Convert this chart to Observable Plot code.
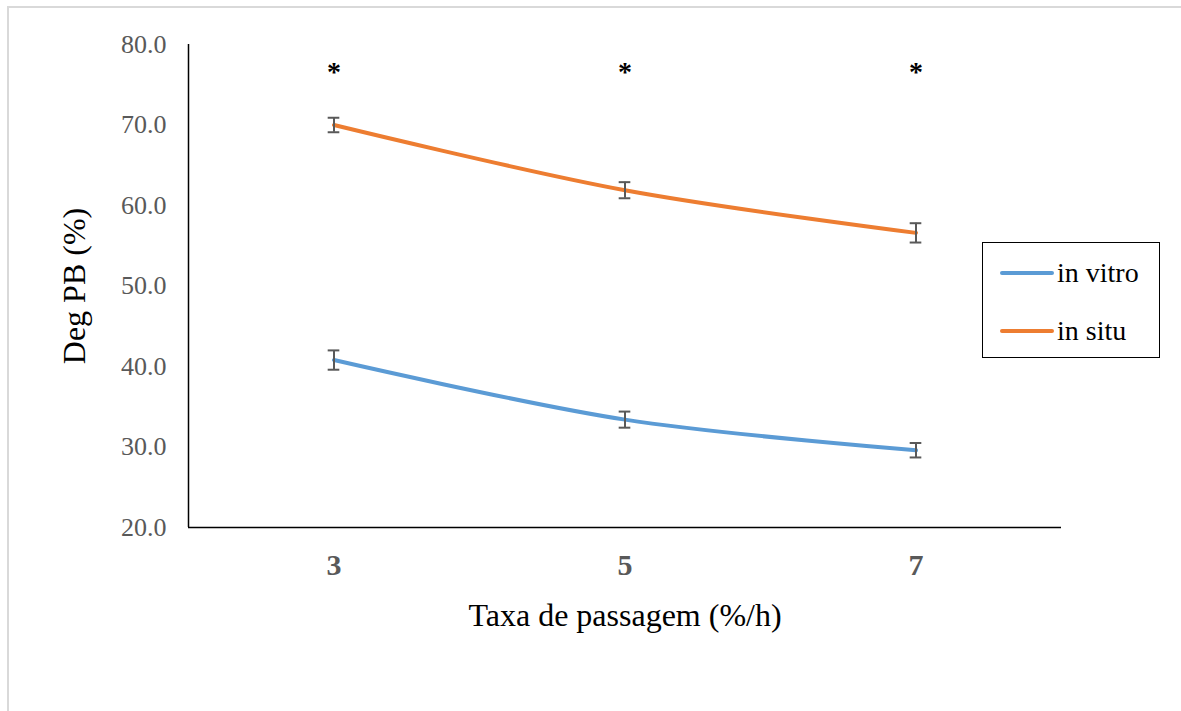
<!DOCTYPE html>
<html>
<head>
<meta charset="utf-8">
<script src="https://cdn.jsdelivr.net/npm/d3@7"></script>
<script src="https://cdn.jsdelivr.net/npm/@observablehq/plot@0.6"></script>
<style>
  html, body { margin: 0; padding: 0; background: #fff; overflow: hidden; }
  #wrap { position: relative; width: 1181px; height: 711px; font-family: "Liberation Serif", "Times New Roman", serif; }
  #border { position: absolute; left: 7px; top: 6px; width: 1200px; height: 800px; border: 2px solid #d9d9d9; box-sizing: border-box; }
  #legend { position: absolute; left: 982px; top: 242px; width: 178px; height: 116px; border: 1.5px solid #000; box-sizing: border-box; background: #fff; }
  .item { position: absolute; left: 17px; display: flex; align-items: center; font-size: 28px; color: #000; line-height: 1; }
  .sw { width: 54px; height: 4px; border-radius: 2px; margin-right: 3px; }
  #chart { position: absolute; left: 0; top: 0; }
  #chart svg text { font-family: "Liberation Serif", "Times New Roman", serif; }
</style>
</head>
<body>
<div id="wrap">
  <div id="border"></div>
  <div id="chart"></div>
  <div id="legend"></div>
</div>
<script>
const categories = [3, 5, 7];
const seriesNames = ["in vitro", "in situ"];
const inVitro = [40.8, 33.4, 29.6];
const inVitroErr = [1.2, 1.0, 0.9];
const inSitu = [70.0, 61.9, 56.6];
const inSituErr = [0.9, 1.0, 1.2];
const colors = ["#5B9BD5", "#ED7D31"];
const yTicks = [20, 30, 40, 50, 60, 70, 80];
const starY = 76.6;

const rows = [];
categories.forEach((c, i) => {
  rows.push({x: c, y: inVitro[i], e: inVitroErr[i], s: seriesNames[0]});
  rows.push({x: c, y: inSitu[i], e: inSituErr[i], s: seriesNames[1]});
});
const capHalf = 0.04;

const plot = Plot.plot({
  width: 1181,
  height: 711,
  marginLeft: 188,
  marginRight: 120,
  marginTop: 44,
  marginBottom: 184,
  style: {fontFamily: "'Liberation Serif', 'Times New Roman', serif", background: "transparent", overflow: "visible"},
  x: {domain: [2, 8], label: null},
  y: {domain: [20, 80], label: null},
  color: {domain: seriesNames, range: colors},
  marks: [
    Plot.axisY({ticks: yTicks, tickFormat: d => d.toFixed(1), tickSize: 0, tickPadding: 22, fontSize: 26, fill: "#595959", label: null}),
    Plot.axisX({ticks: categories, tickFormat: d => String(d), tickSize: 0, tickPadding: 26, fontSize: 30, fontWeight: "bold", fill: "#595959", label: null}),
    Plot.ruleX([2], {stroke: "#000", strokeWidth: 1.5}),
    Plot.ruleY([20], {stroke: "#000", strokeWidth: 1.5}),
    Plot.line(rows, {x: "x", y: "y", z: "s", stroke: "s", strokeWidth: 4, curve: "catmull-rom"}),
    Plot.ruleX(rows, {x: "x", y1: d => d.y - d.e, y2: d => d.y + d.e, stroke: "#595959", strokeWidth: 2}),
    Plot.ruleY(rows, {y: d => d.y - d.e, x1: d => d.x - capHalf, x2: d => d.x + capHalf, stroke: "#595959", strokeWidth: 2}),
    Plot.ruleY(rows, {y: d => d.y + d.e, x1: d => d.x - capHalf, x2: d => d.x + capHalf, stroke: "#595959", strokeWidth: 2}),
    Plot.text(categories, {x: d => d, y: () => starY, text: () => "*", fontSize: 28, fontWeight: "bold", fill: "#000"}),
    Plot.text(["Taxa de passagem (%/h)"], {frameAnchor: "bottom", dy: 98, lineAnchor: "bottom", textAnchor: "middle", text: d => d, fontSize: 32, fill: "#000"}),
    Plot.text(["Deg PB (%)"], {frameAnchor: "left", dx: -114, rotate: -90, textAnchor: "middle", lineAnchor: "middle", text: d => d, fontSize: 32, fill: "#000"})
  ]
});
document.getElementById("chart").appendChild(plot);

const legend = document.getElementById("legend");
seriesNames.forEach((n, i) => {
  const item = document.createElement("div");
  item.className = "item";
  item.style.top = (i === 0 ? 16 : 74) + "px";
  const sw = document.createElement("div");
  sw.className = "sw";
  sw.style.background = colors[i];
  const t = document.createElement("span");
  t.textContent = n;
  item.appendChild(sw);
  item.appendChild(t);
  legend.appendChild(item);
});
</script>
</body>
</html>
